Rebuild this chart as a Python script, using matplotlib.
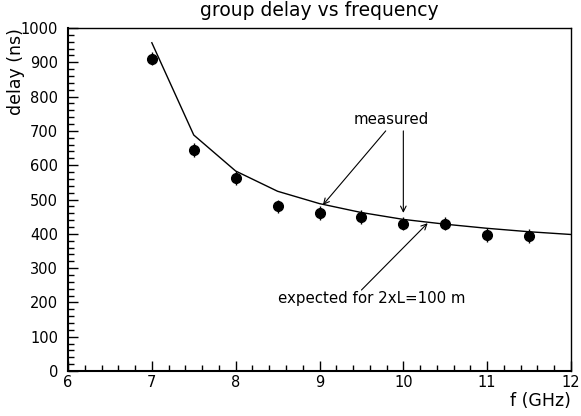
import matplotlib
matplotlib.use('Agg')
import matplotlib.pyplot as plt
from matplotlib.ticker import MultipleLocator

# measured group delay (points with error bars)
freq = [7, 7.5, 8, 8.5, 9, 9.5, 10, 10.5, 11, 11.5]
delay = [911, 644, 563, 480, 461, 448, 430, 430, 397, 394]
delay_err = [20, 20, 20, 20, 20, 20, 20, 20, 20, 20]

# expected curve for 2xL = 100 m
freq_exp = [7, 7.5, 8, 8.5, 9, 9.5, 10, 10.5, 11, 11.5, 12]
delay_exp = [957, 688, 583, 524, 488, 462, 442, 428, 416, 406, 398]


def main():
    fig = plt.figure(figsize=(5.81, 4.16), dpi=100)
    ax = fig.add_axes([68 / 581, 1 - 371 / 416, (571 - 68) / 581, (371 - 28) / 416])

    ax.plot(freq_exp, delay_exp, color='black', lw=1)
    ax.errorbar(freq, delay, yerr=delay_err, fmt='o', color='black',
                ms=7, elinewidth=1, capsize=0)

    ax.set_xlim(6, 12)
    ax.set_ylim(0, 1000)
    ax.xaxis.set_major_locator(MultipleLocator(1))
    ax.xaxis.set_minor_locator(MultipleLocator(0.2))
    ax.yaxis.set_major_locator(MultipleLocator(100))
    ax.yaxis.set_minor_locator(MultipleLocator(20))
    ax.tick_params(which='both', direction='in', top=False, right=False,
                   labelsize=10.5, width=1)
    ax.tick_params(which='major', length=7)
    ax.tick_params(which='minor', length=4)
    ax.tick_params(axis='x', pad=3)
    ax.tick_params(axis='y', pad=7)

    for s in ['left', 'bottom']:
        ax.spines[s].set_linewidth(1.5)
    for s in ['top', 'right']:
        ax.spines[s].set_linewidth(1)

    ax.set_title('group delay vs frequency', fontsize=13.5, pad=9)
    ax.set_xlabel('f (GHz)', loc='right', fontsize=12.5, labelpad=1)
    ax.set_ylabel('delay (ns)', loc='top', fontsize=12.5, labelpad=-3)

    arrow = dict(arrowstyle='->', color='black', lw=0.8, shrinkA=0, shrinkB=0)
    ax.text(9.85, 732, 'measured', ha='center', va='center', fontsize=10.8)
    ax.annotate('', xy=(9.04, 484), xytext=(9.79, 700), arrowprops=arrow)
    ax.annotate('', xy=(10.0, 461), xytext=(10.0, 700), arrowprops=arrow)
    ax.text(8.5, 210, 'expected for 2xL=100 m', ha='left', va='center', fontsize=10.8)
    ax.annotate('', xy=(10.29, 431), xytext=(9.5, 236), arrowprops=arrow)

    fig.savefig('out.png', dpi=100)


if __name__ == "__main__":
    main()
